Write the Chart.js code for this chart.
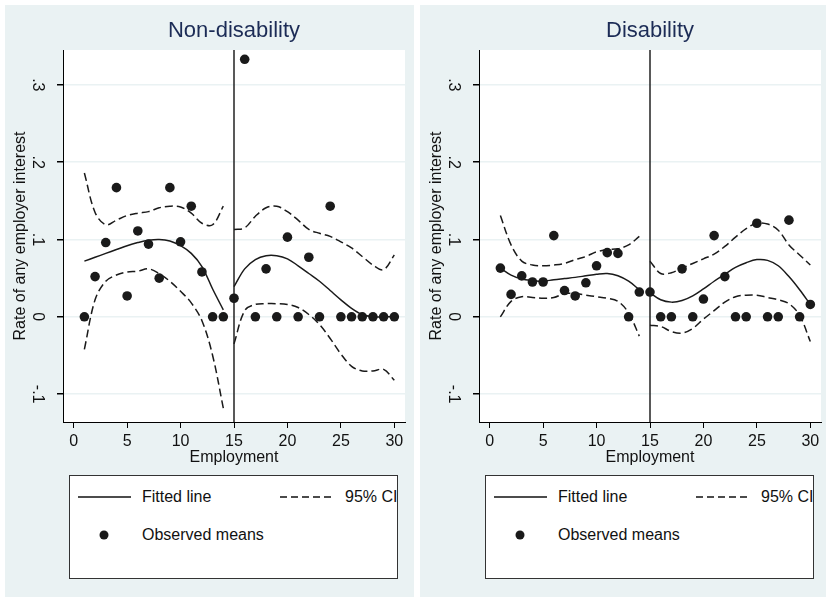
<!DOCTYPE html>
<html>
<head>
<meta charset="utf-8">
<script src="https://cdn.jsdelivr.net/npm/chart.js@4.4.1/dist/chart.umd.min.js"></script>
<style>
  body { margin: 0; width: 829px; height: 600px; overflow: hidden; background: #ffffff;
         font-family: "Liberation Sans", Arial, sans-serif; position: relative; }
  .panel { position: absolute; top: 5px; height: 592px; background: #eaf2f3; }
  canvas { position: absolute; top: 0; }
  .leg { position: absolute; top: 475px; width: 329px; height: 104px; background: #fff;
         border: 1px solid #333; box-sizing: border-box; }
  .leg svg { position: absolute; left: 0; top: 0; }
  .leg span { position: absolute; font-size: 16px; line-height: 18px; color: #111; white-space: nowrap; }
</style>
</head>
<body>
<div class="panel" style="left:5px;width:409px"></div>
<div class="panel" style="left:420px;width:406px"></div>
<canvas id="left" width="415" height="470" style="left:0"></canvas>
<canvas id="right" width="413" height="470" style="left:416px"></canvas>

<div class="leg" style="left:69px">
  <svg width="329" height="104">
    <line x1="8" y1="21" x2="61" y2="21" stroke="#111" stroke-width="1.5"/>
    <line x1="210" y1="21" x2="264" y2="21" stroke="#111" stroke-width="1.5" stroke-dasharray="7,4"/>
    <circle cx="34" cy="59" r="4.5" fill="#1a1a1a"/>
  </svg>
  <span style="left:72px;top:12px">Fitted line</span>
  <span style="left:275px;top:12px">95% CI</span>
  <span style="left:72px;top:50px">Observed means</span>
</div>
<div class="leg" style="left:485px">
  <svg width="329" height="104">
    <line x1="8" y1="21" x2="61" y2="21" stroke="#111" stroke-width="1.5"/>
    <line x1="210" y1="21" x2="264" y2="21" stroke="#111" stroke-width="1.5" stroke-dasharray="7,4"/>
    <circle cx="34" cy="59" r="4.5" fill="#1a1a1a"/>
  </svg>
  <span style="left:72px;top:12px">Fitted line</span>
  <span style="left:275px;top:12px">95% CI</span>
  <span style="left:72px;top:50px">Observed means</span>
</div>

<script>
// employment values 1..30, cutoff at 15
var employment = [1,2,3,4,5,6,7,8,9,10,11,12,13,14,15,16,17,18,19,20,21,22,23,24,25,26,27,28,29,30];
var cutoff = 15;
var xTicks = [0, 5, 10, 15, 20, 25, 30];
var yTicks = [-0.1, 0, 0.1, 0.2, 0.3];

// Non-disability
var obsNon = [0, .052, .096, .167, .027, .111, .094, .05, .167, .097, .143, .058, 0, 0, .024,
              .333, 0, .062, 0, .103, 0, .077, 0, .143, 0, 0, 0, 0, 0, 0];
var fitNonL = [.072, .077, .082, .087, .092, .096, .099, .100, .098, .092, .082, .065, .036, .009];
var fitNonR = [.039, .062, .074, .079, .079, .075, .066, .056, .046, .034, .022, .011, .003, 0, 0, 0];
var upNonL = [.186, .135, .119, .125, .131, .134, .136, .141, .143, .142, .134, .121, .119, .143];
var loNonL = [-.042, .022, .046, .054, .058, .059, .062, .056, .046, .033, .018, -.005, -.05, -.118];
var upNonR = [.113, .115, .130, .141, .143, .136, .125, .113, .108, .104, .097, .089, .078, .067, .061, .080];
var loNonR = [-.035, .008, .016, .017, .017, .016, .012, .003, -.010, -.028, -.048, -.064, -.070, -.070, -.068, -.082];

// Disability
var obsDis = [.063, .029, .053, .045, .045, .105, .034, .027, .044, .066, .083, .082, 0, .032, .032,
              0, 0, .062, 0, .023, .105, .052, 0, 0, .121, 0, 0, .125, 0, .016];
var fitDisL = [.063, .054, .049, .047, .046, .048, .0495, .051, .053, .055, .056, .053, .046, .035];
var fitDisR = [.031, .022, .019, .021, .027, .036, .046, .055, .064, .070, .074, .073, .066, .052, .035, .016];
var upDisL = [.131, .093, .072, .067, .066, .067, .069, .074, .078, .084, .087, .088, .093, .104];
var loDisL = [0, .020, .026, .025, .024, .025, .030, .030, .028, .026, .024, .020, .005, -.025];
var upDisR = [.072, .056, .057, .063, .069, .075, .081, .091, .103, .114, .121, .120, .112, .093, .080, .067];
var loDisR = [-.011, -.0125, -.019, -.021, -.015, -.003, .008, .019, .026, .028, .028, .025, .022, .017, .002, -.032];

var xLeft = employment.slice(0, 14);
var xRight = employment.slice(14);

function pts(xs, ys) {
  return xs.map(function (x, i) { return {x: x, y: ys[i]}; });
}

function fmt(v) {
  if (Math.abs(v) < 1e-9) return '0';
  return (v < 0 ? '-' : '') + Math.abs(v).toFixed(1).replace(/^0/, '');
}

var ink = '#1a1a1a';

function lineSet(data, dashed) {
  return {
    type: 'line', data: data, borderColor: ink, borderWidth: 1.5,
    borderDash: dashed ? [8, 4] : [], pointRadius: 0, tension: 0.35, fill: false
  };
}

// white plot region + vertical cutoff line
var plotBg = {
  id: 'plotBg',
  beforeDraw: function (chart) {
    var a = chart.chartArea, c = chart.ctx;
    c.save();
    c.fillStyle = '#ffffff';
    c.fillRect(a.left, a.top, a.right - a.left, a.bottom - a.top);
    c.restore();
  },
  beforeDatasetsDraw: function (chart) {
    var a = chart.chartArea, c = chart.ctx;
    var px = chart.scales.x.getPixelForValue(cutoff);
    c.save();
    c.strokeStyle = '#222';
    c.lineWidth = 1.5;
    c.beginPath();
    c.moveTo(px, a.top);
    c.lineTo(px, a.bottom);
    c.stroke();
    c.restore();
  }
};

function makeChart(id, title, obs, fL, fR, uL, uR, lL, lR, padRight) {
  return new Chart(document.getElementById(id), {
    type: 'scatter',
    data: {
      datasets: [
        lineSet(pts(xLeft, uL), true),
        lineSet(pts(xLeft, lL), true),
        lineSet(pts(xRight, uR), true),
        lineSet(pts(xRight, lR), true),
        lineSet(pts(xLeft, fL), false),
        lineSet(pts(xRight, fR), false),
        {
          type: 'scatter', data: pts(employment, obs),
          backgroundColor: ink, borderColor: ink, pointRadius: 4.8, pointBorderWidth: 0
        }
      ]
    },
    options: {
      responsive: false,
      animation: false,
      layout: { padding: { left: 0, right: padRight, top: 0, bottom: 0 } },
      plugins: {
        legend: { display: false },
        tooltip: { enabled: false },
        title: {
          display: true, text: title, fullSize: false,
          color: '#1c2c56',
          font: { family: 'Liberation Sans', size: 22, weight: 'normal' },
          padding: { top: 18, bottom: 5.6 }
        }
      },
      scales: {
        x: {
          type: 'linear', min: -1, max: 31,
          afterBuildTicks: function (s) { s.ticks = xTicks.map(function (v) { return {value: v}; }); },
          afterFit: function (s) { s.height = 48; },
          border: { display: true, color: '#000', width: 1 },
          grid: { drawOnChartArea: false, color: '#000', tickLength: 6 },
          ticks: { color: '#111', font: { family: 'Liberation Sans', size: 16 }, padding: 4, maxRotation: 0 },
          title: {
            display: true, text: 'Employment', color: '#111',
            font: { family: 'Liberation Sans', size: 16 }, padding: { top: 0, bottom: 3 }
          }
        },
        y: {
          type: 'linear', min: -0.136, max: 0.345,
          afterBuildTicks: function (s) { s.ticks = yTicks.map(function (v) { return {value: v}; }); },
          afterFit: function (s) { s.width = 63; },
          border: { display: true, color: '#000', width: 1 },
          grid: { color: '#eaf2f3', lineWidth: 1.5, tickColor: '#000', tickLength: 6 },
          ticks: {
            color: '#111', font: { family: 'Liberation Sans', size: 16 },
            callback: fmt, minRotation: -90, maxRotation: -90, crossAlign: 'center', padding: 10
          },
          title: {
            display: true, text: 'Rate of any employer interest', color: '#111',
            font: { family: 'Liberation Sans', size: 16 }, padding: { top: 11, bottom: 0 }
          }
        }
      }
    },
    plugins: [plotBg]
  });
}

makeChart('left', 'Non-disability', obsNon, fitNonL, fitNonR, upNonL, upNonR, loNonL, loNonR, 10);
makeChart('right', 'Disability', obsDis, fitDisL, fitDisR, upDisL, upDisR, loDisL, loDisR, 8);
</script>
</body>
</html>
